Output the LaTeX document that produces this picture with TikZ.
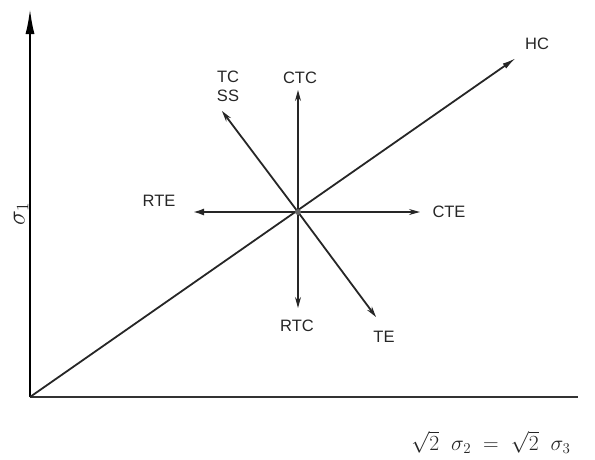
\documentclass[tikz,border=0pt]{standalone}
\usepackage{graphicx}
\usepackage{fontspec}
\setmainfont{Liberation Sans}
\usetikzlibrary{arrows.meta}
\begin{document}
\begin{tikzpicture}[x=1pt,y=-1pt,
  ln/.style={line width=1.8pt,draw=black!85},
  arr/.style={ln,-{Stealth[length=11pt,width=6pt,open,line width=1.2pt]}},
  lbl/.style={font=\fontsize{16.5}{18}\selectfont,inner sep=0pt,text=black!85}]
\useasboundingbox (0,0) rectangle (595,459);
\coordinate (O) at (30,397);
\coordinate (ytip) at (30,8);
\coordinate (xend) at (578,397);
\coordinate (C) at (298,212);
\coordinate (hc) at (516,58);
\coordinate (ctc) at (298,90);
\coordinate (rtc) at (298,308);
\coordinate (cte) at (420,212);
\coordinate (rte) at (192,212);
\coordinate (tc) at (222,111);
\coordinate (te) at (376,317);
% axes
\draw[line width=2.4pt,-{Latex[length=26pt,width=9pt]}] (O) -- (ytip);
\draw[line width=2.4pt,draw=black!80] (O) -- (xend);
% HC line
\draw[arr,-{Latex[length=14pt,width=6pt]}] (O) -- (hc);
% star
\draw[arr] (C) -- (ctc);
\draw[arr] (C) -- (rtc);
\draw[arr] (C) -- (cte);
\draw[ln,-{Latex[length=12pt,width=7pt]},line width=2.4pt] (C) -- (rte);
\draw[arr] (C) -- (tc);
\draw[arr] (C) -- (te);
\fill[black!60] (C) circle (3pt);
% labels
\node[lbl] (lhc) at (537,44) {HC};
\node[lbl] (lctc) at (300,78) {CTC};
\node[lbl] (lrtc) at (297,326) {RTC};
\node[lbl] (lcte) at (449,212) {CTE};
\node[lbl] (lrte) at (159,201) {RTE};
\node[lbl] (ltc) at (228,77) {TC};
\node[lbl] (lss) at (228,96) {SS};
\node[lbl] (lte) at (384,337) {TE};
\node[lbl,rotate=90] (lsig) at (21,214) {\scalebox{1.45}{$\sigma_1$}};
\node[lbl] (lbot) at (491,442) {\scalebox{1.25}{$\sqrt{2}\;\;\sigma_2\;=\;\sqrt{2}\;\;\sigma_3$}};
\end{tikzpicture}
\end{document}
